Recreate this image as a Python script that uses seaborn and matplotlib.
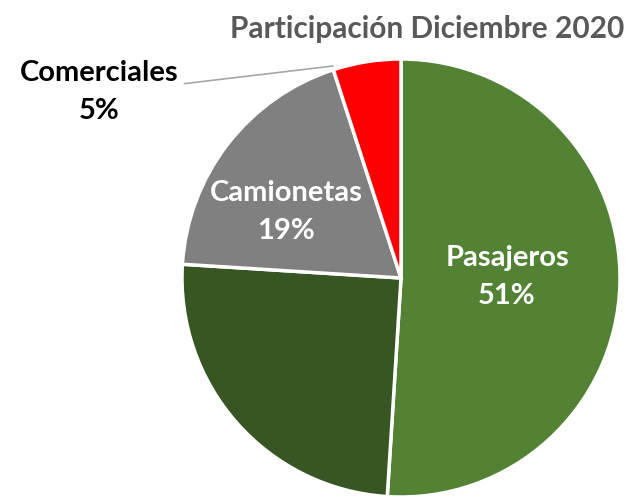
import matplotlib
matplotlib.use("Agg")
import matplotlib.pyplot as plt
import seaborn as sns

# data
segmentos = ["Pasajeros", "Otros", "Camionetas", "Comerciales"]
participacion = [51, 25, 19, 5]
colores = ["#548235", "#375623", "#808080", "#FF0000"]

sns.set_theme(style="white")
plt.rcParams["font.family"] = ["Lato", "DejaVu Sans"]

fig = plt.figure(figsize=(6.29, 4.96), dpi=100)
ax = fig.add_axes([0, 0, 1, 1])

ax.pie(participacion, colors=colores, startangle=90, counterclock=False,
       center=(401, 218), radius=219,
       wedgeprops=dict(edgecolor="white", linewidth=2.5))
ax.set_xlim(0, 629)
ax.set_ylim(0, 496)
ax.set_aspect("equal")
ax.axis("off")

# etiquetas
ax.text(507, 496 - 277, f"{segmentos[0]}\n{participacion[0]}%", color="white",
        fontsize=21, fontweight="bold", ha="center", va="center", linespacing=1.6)
ax.text(286, 496 - 212, f"{segmentos[2]}\n{participacion[2]}%", color="white",
        fontsize=21, fontweight="bold", ha="center", va="center", linespacing=1.55)
ax.annotate(f"{segmentos[3]}\n{participacion[3]}%", xy=(333, 496 - 66), xytext=(99, 496 - 92),
            color="black", fontsize=21, fontweight="bold", ha="center", va="center",
            linespacing=1.55,
            arrowprops=dict(arrowstyle="-", color="#A6A6A6", lw=1.2,
                            relpos=(1.0, 0.62), shrinkA=2, shrinkB=0))

fig.text(0.679, 1 - 29 / 496, "Participación Diciembre 2020", color="#595959",
         fontsize=21.5, fontweight="bold", ha="center", va="center")

fig.savefig("out.png", dpi=100)
